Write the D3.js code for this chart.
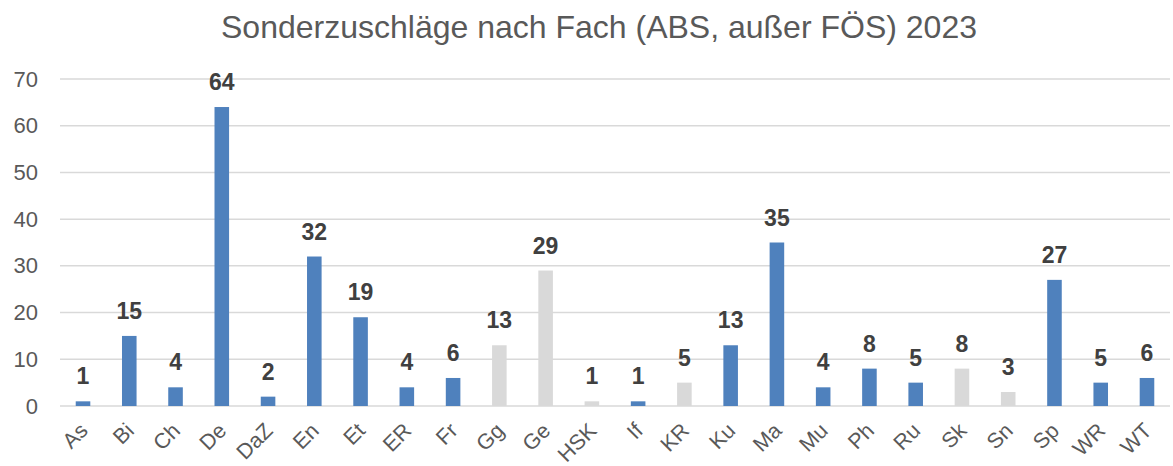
<!DOCTYPE html>
<html><head><meta charset="utf-8">
<script src="https://cdn.jsdelivr.net/npm/d3@7"></script>
<style>body{margin:0;background:#fff}</style></head>
<body><svg id="c" width="1173" height="466"></svg>
<script>
const categories = ["As","Bi","Ch","De","DaZ","En","Et","ER","Fr","Gg","Ge","HSK","If","KR","Ku","Ma","Mu","Ph","Ru","Sk","Sn","Sp","WR","WT"];
const values = [1,15,4,64,2,32,19,4,6,13,29,1,1,5,13,35,4,8,5,8,3,27,5,6];
const grayCategories = ["Gg","Ge","HSK","KR","Sk","Sn"];
const yTicks = [0,10,20,30,40,50,60,70];
const title = "Sonderzuschläge nach Fach (ABS, außer FÖS) 2023";

const svg = d3.select("#c");
const font = "'Liberation Sans', Arial, sans-serif";
const x = d3.scaleBand().domain(categories).range([60,1170]).paddingInner(0.685).paddingOuter(0.34);
const y = d3.scaleLinear().domain([0,70]).range([406,79]);

svg.append("text").attr("x",599).attr("y",38).attr("text-anchor","middle")
  .attr("font-family",font).attr("font-size",32).attr("fill","#595959").text(title);

const grid = svg.append("g");
grid.selectAll("line").data(yTicks).join("line")
  .attr("x1",60).attr("x2",1170).attr("y1",d=>y(d)).attr("y2",d=>y(d))
  .attr("stroke","#d9d9d9").attr("stroke-width",1.5);

const yAxis = svg.append("g").attr("transform","translate(60,0)")
  .call(d3.axisLeft(y).tickValues(yTicks).tickSize(0).tickPadding(22));
yAxis.select(".domain").remove();
yAxis.selectAll("text").attr("font-family",font).attr("font-size",22).attr("fill","#595959");

svg.append("g").selectAll("rect").data(categories).join("rect")
  .attr("x",d=>x(d)).attr("width",x.bandwidth())
  .attr("y",(d,i)=>y(values[i])).attr("height",(d,i)=>y(0)-y(values[i]))
  .attr("fill",d=>grayCategories.includes(d)?"#d9d9d9":"#4f81bd");

svg.append("g").selectAll("text").data(categories).join("text")
  .attr("x",d=>x(d)+x.bandwidth()/2).attr("y",(d,i)=>y(values[i])-17)
  .attr("text-anchor","middle").attr("font-family",font).attr("font-size",23)
  .attr("font-weight","bold").attr("fill","#404040").text((d,i)=>values[i]);

const xAxis = svg.append("g").attr("transform","translate(0,406)")
  .call(d3.axisBottom(x).tickSize(0).tickPadding(0));
xAxis.select(".domain").remove();
xAxis.selectAll("text").attr("font-family",font).attr("font-size",21.5).attr("fill","#595959")
  .attr("text-anchor","end").attr("dy",0)
  .attr("transform","translate(6,26) rotate(-45)");
</script></body></html>
